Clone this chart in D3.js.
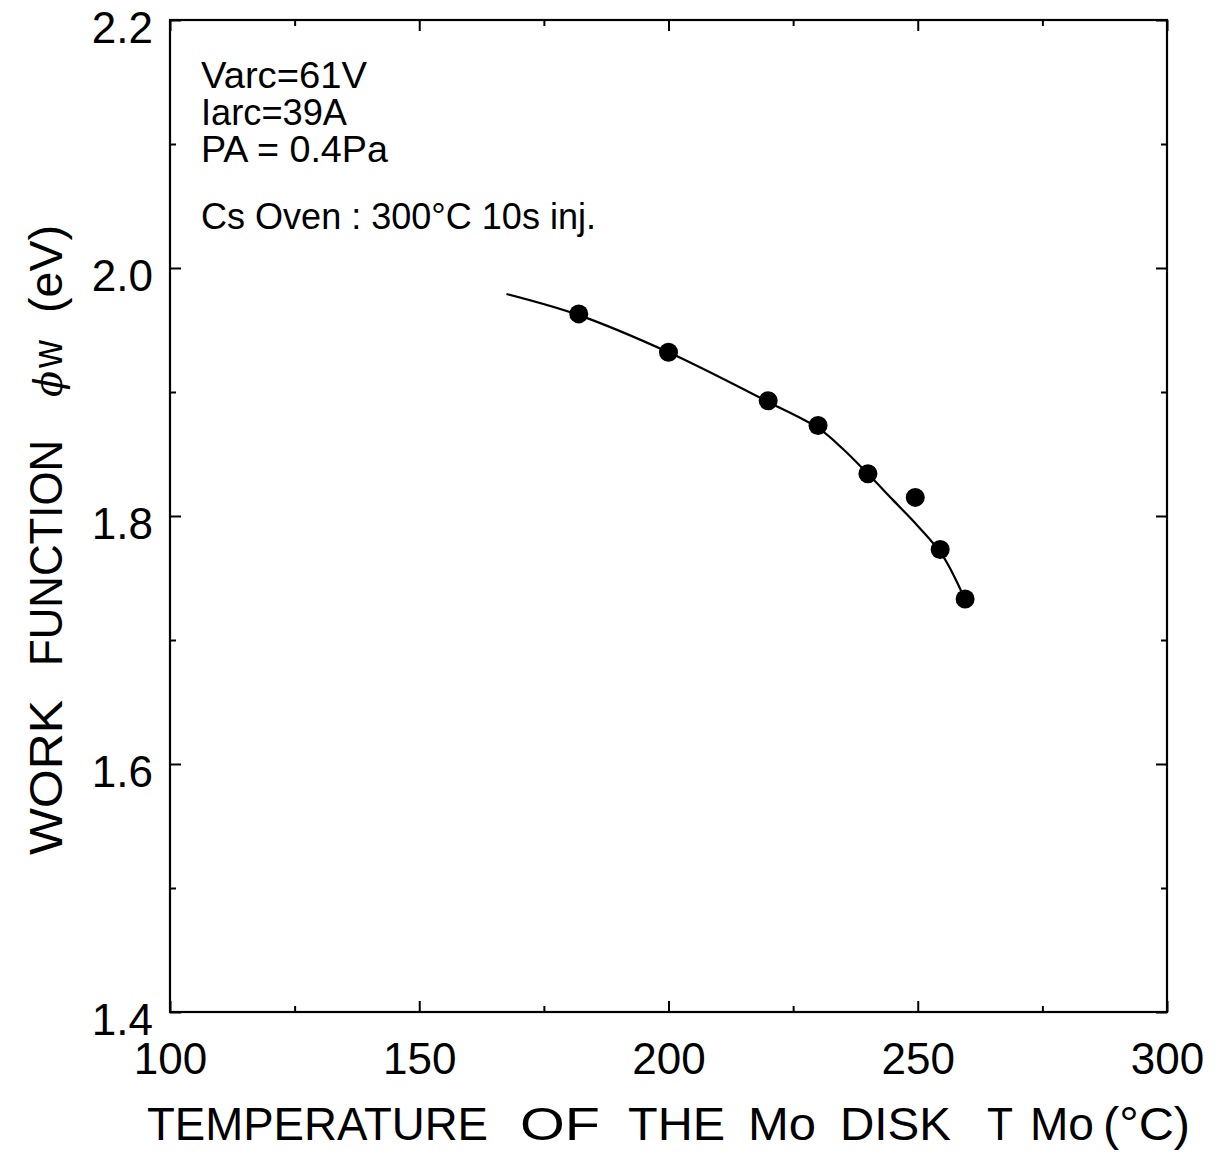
<!DOCTYPE html>
<html>
<head>
<meta charset="utf-8">
<script src="https://cdn.jsdelivr.net/npm/d3@7/dist/d3.min.js"></script>
<style>
  html, body { margin: 0; padding: 0; background: #fff; }
  svg { display: block; font-family: "Liberation Sans", Arial, Helvetica, sans-serif; }
</style>
</head>
<body>
<svg id="chart" width="1224" height="1153"></svg>
<script>
// Measured Mo disk temperature (°C) and work function (eV)
const temperature = [182, 200, 220, 230, 240, 249.5, 254.5, 259.5];
const workFunction = [1.963, 1.932, 1.893, 1.873, 1.834, 1.815, 1.773, 1.733];

// Smooth fitted trend drawn through the measurements
const fitTemperature = [167.5, 182, 200, 220, 230, 235, 240, 245, 250, 255, 260];
const fitWorkFunction = [1.979, 1.962, 1.932, 1.892, 1.871, 1.854, 1.834, 1.813, 1.792, 1.768, 1.728];

// Axis ticks
const xMajorTicks = [100, 150, 200, 250, 300];
const xMinorTicks = [125, 175, 225, 275];
const yMajorTicks = [1.4, 1.6, 1.8, 2.0, 2.2];
const yMinorTicks = [1.5, 1.7, 1.9, 2.1];

// Experimental conditions
const conditionLines = [
  { t: "Varc=61V", w: 166, y: 88 },
  { t: "Iarc=39A", w: 146, y: 125 },
  { t: "PA = 0.4Pa", w: 187, y: 162 },
  { t: "Cs Oven : 300°C 10s inj.", w: 395, y: 229 }
];

const svg = d3.select("#chart");
const plotLeft = 170, plotRight = 1167, plotTop = 20, plotBottom = 1012;

const x = d3.scaleLinear().domain([100, 300]).range([plotLeft, plotRight]);
const y = d3.scaleLinear().domain([1.4, 2.2]).range([plotBottom, plotTop]);

const fmtY = d3.format(".1f");

function styleAxis(g) {
  g.selectAll(".domain").remove();
  g.selectAll(".tick line").attr("stroke", "#000").attr("stroke-width", 2);
  g.selectAll(".tick text").attr("fill", "#000").attr("font-size", 44)
    .attr("font-family", "'Liberation Sans', Arial, sans-serif");
}

// Bottom axis
svg.append("g").attr("transform", `translate(0,${plotBottom})`)
  .call(d3.axisBottom(x).tickValues(xMajorTicks).tickSize(-11).tickPadding(31).tickFormat(d3.format("d")))
  .call(styleAxis);
svg.append("g").attr("transform", `translate(0,${plotBottom})`)
  .call(d3.axisBottom(x).tickValues(xMinorTicks).tickSize(-6).tickFormat(""))
  .call(styleAxis);
// Top axis
svg.append("g").attr("transform", `translate(0,${plotTop})`)
  .call(d3.axisTop(x).tickValues(xMajorTicks).tickSize(-11).tickFormat(""))
  .call(styleAxis);
svg.append("g").attr("transform", `translate(0,${plotTop})`)
  .call(d3.axisTop(x).tickValues(xMinorTicks).tickSize(-6).tickFormat(""))
  .call(styleAxis);
// Left axis
const yAxisG = svg.append("g").attr("transform", `translate(${plotLeft},0)`)
  .call(d3.axisLeft(y).tickValues(yMajorTicks).tickSize(-11).tickPadding(17).tickFormat(fmtY))
  .call(styleAxis);
yAxisG.selectAll(".tick text").attr("dy", "0.5em");
svg.append("g").attr("transform", `translate(${plotLeft},0)`)
  .call(d3.axisLeft(y).tickValues(yMinorTicks).tickSize(-6).tickFormat(""))
  .call(styleAxis);
// Right axis
svg.append("g").attr("transform", `translate(${plotRight},0)`)
  .call(d3.axisRight(y).tickValues(yMajorTicks).tickSize(-11).tickFormat(""))
  .call(styleAxis);
svg.append("g").attr("transform", `translate(${plotRight},0)`)
  .call(d3.axisRight(y).tickValues(yMinorTicks).tickSize(-6).tickFormat(""))
  .call(styleAxis);

// Plot frame
svg.append("rect")
  .attr("x", plotLeft).attr("y", plotTop)
  .attr("width", plotRight - plotLeft).attr("height", plotBottom - plotTop)
  .attr("fill", "none").attr("stroke", "#000").attr("stroke-width", 2.2);

// Fitted curve
const fitData = fitTemperature.map((t, i) => [t, fitWorkFunction[i]]);
const line = d3.line().x(d => x(d[0])).y(d => y(d[1])).curve(d3.curveCatmullRom.alpha(0.5));
svg.append("path").datum(fitData)
  .attr("d", line)
  .attr("fill", "none").attr("stroke", "#000").attr("stroke-width", 2.2);

// Measurement points
const points = temperature.map((t, i) => [t, workFunction[i]]);
svg.append("g").selectAll("circle").data(points).join("circle")
  .attr("cx", d => x(d[0])).attr("cy", d => y(d[1]))
  .attr("r", 9.5).attr("fill", "#000");

// Conditions text block
const note = svg.append("g").attr("font-size", 36).attr("fill", "#000");
conditionLines.forEach(c => {
  note.append("text").attr("x", 201).attr("y", c.y)
    .attr("textLength", c.w).attr("lengthAdjust", "spacingAndGlyphs")
    .text(c.t);
});

// X axis title
const xTitleWords = [
  { t: "TEMPERATURE", x0: 147, x1: 488 },
  { t: "OF", x0: 520, x1: 600 },
  { t: "THE", x0: 628, x1: 725 },
  { t: "Mo", x0: 748, x1: 816 },
  { t: "DISK", x0: 840, x1: 951 },
  { t: "T", x0: 987, x1: 1013 },
  { t: "Mo", x0: 1030, x1: 1094 },
  { t: "(°C)", x0: 1103, x1: 1190 }
];
const xTitle = svg.append("g").attr("font-size", 46).attr("fill", "#000");
xTitleWords.forEach(w => {
  xTitle.append("text").attr("x", w.x0).attr("y", 1140)
    .attr("textLength", w.x1 - w.x0).attr("lengthAdjust", "spacingAndGlyphs")
    .text(w.t);
});

// Y axis title (rotated, reading upward)
const yTitle = svg.append("g").attr("transform", "translate(62,0) rotate(-90)")
  .attr("font-size", 46).attr("fill", "#000");
const yTitleWords = [
  { t: "WORK", y0: 855, y1: 700, size: 46 },
  { t: "FUNCTION", y0: 666, y1: 440, size: 46 },
  { t: "w", y0: 368, y1: 340, size: 42 },
  { t: "(eV)", y0: 313, y1: 225, size: 46 }
];
yTitleWords.forEach(w => {
  yTitle.append("text").attr("x", -w.y0).attr("y", 0)
    .attr("font-size", w.size)
    .attr("textLength", w.y0 - w.y1).attr("lengthAdjust", "spacingAndGlyphs")
    .text(w.t);
});
yTitle.append("text").attr("x", -397).attr("y", 0)
  .attr("font-size", 40).attr("font-style", "italic")
  .attr("font-family", "'DejaVu Serif', serif")
  .attr("textLength", 26).attr("lengthAdjust", "spacingAndGlyphs")
  .text("ϕ");
</script>
</body>
</html>
